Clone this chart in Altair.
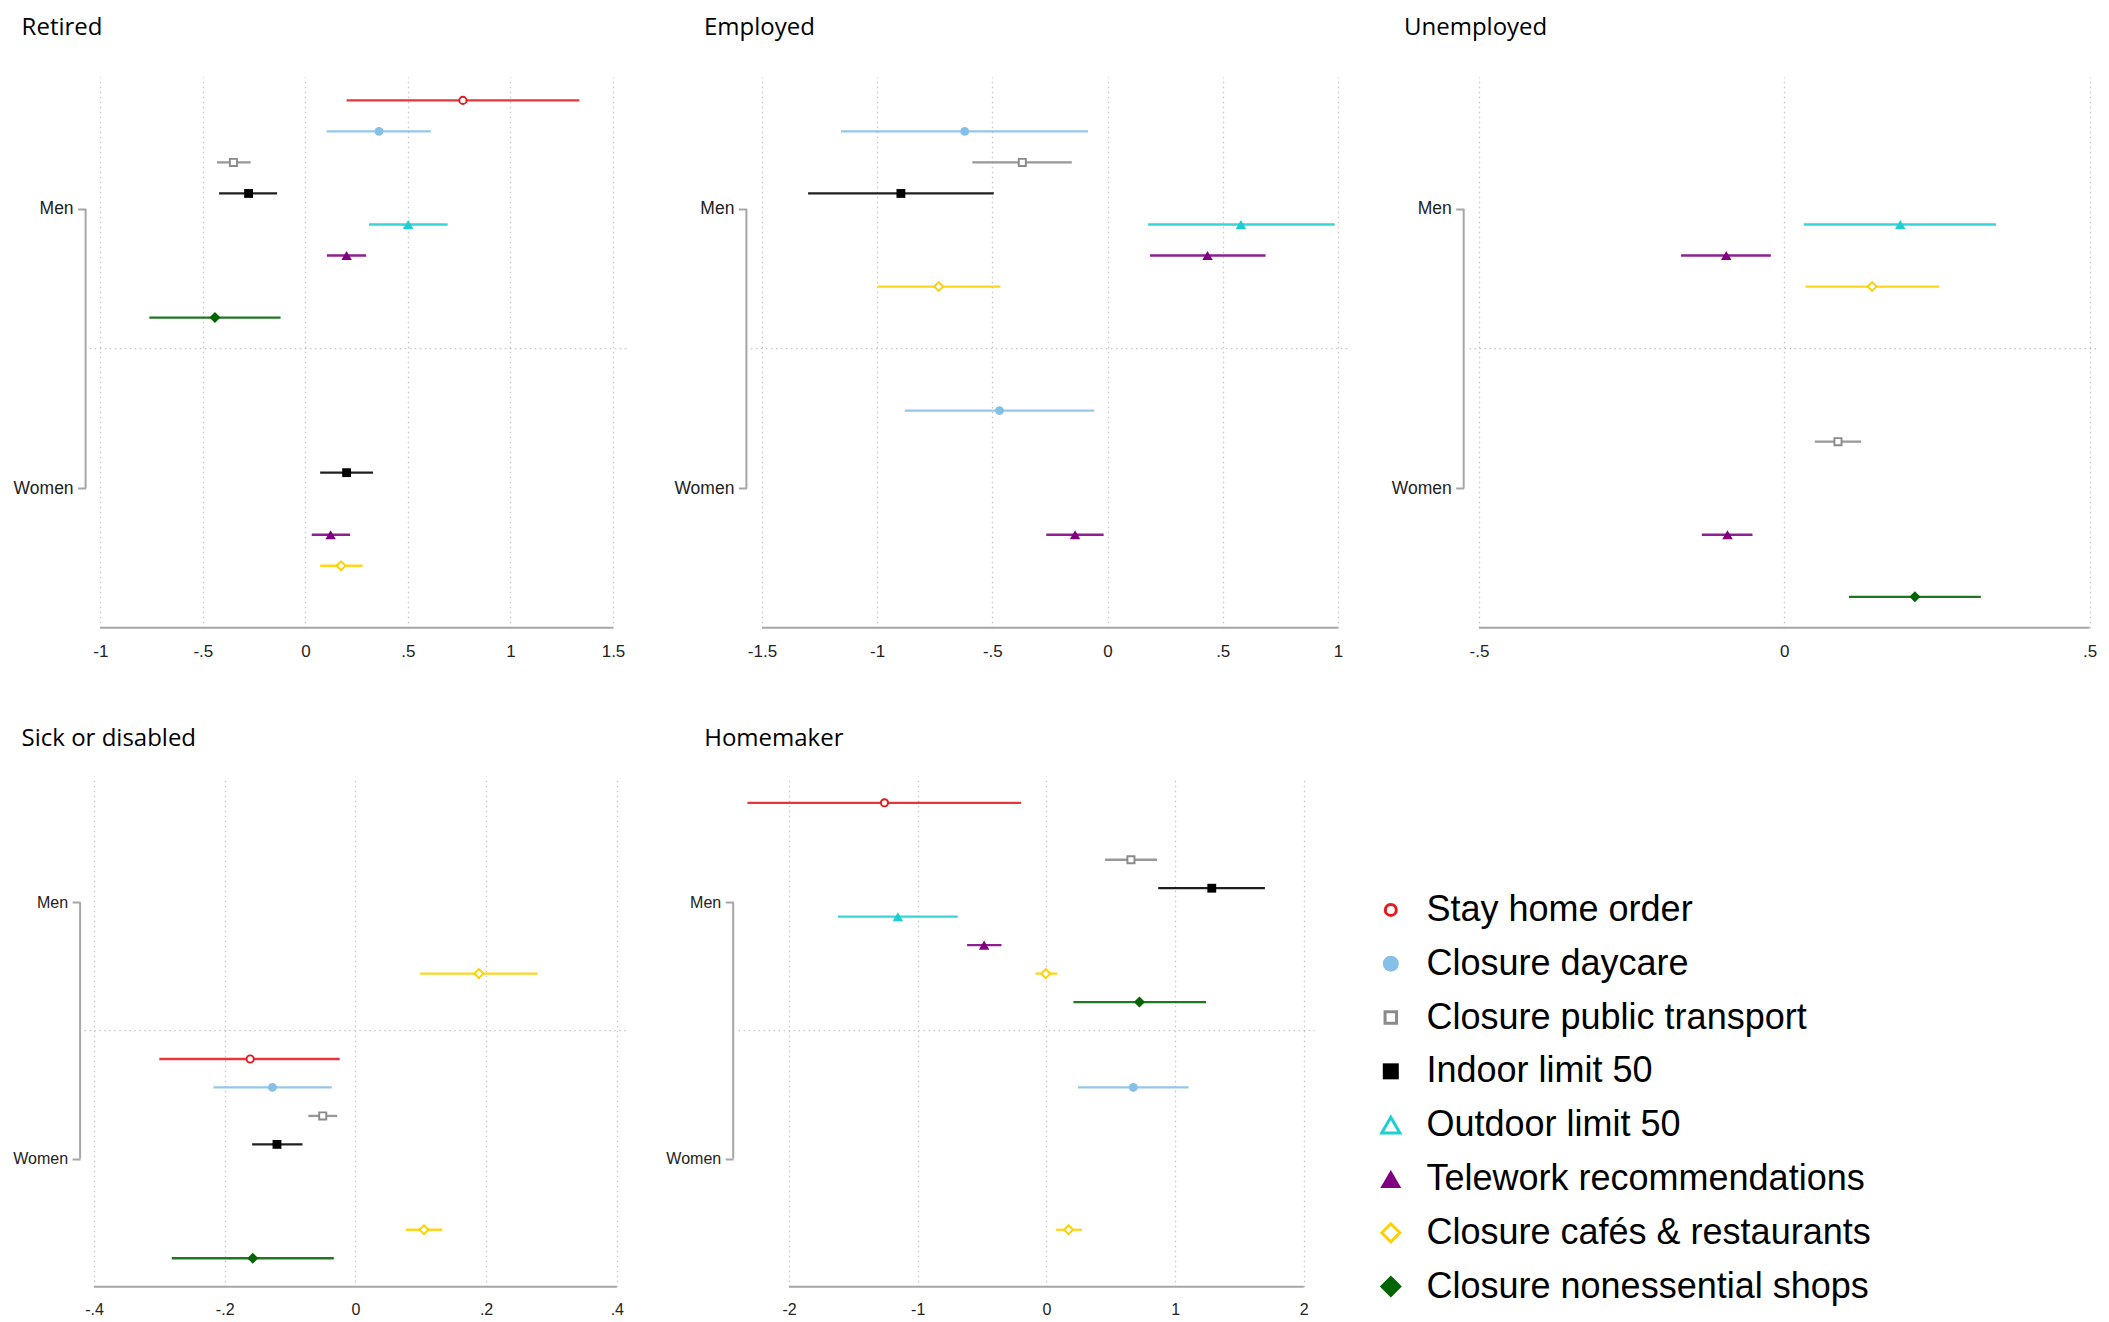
import altair as alt
import pandas as pd

# ---------------- categories & styles ----------------
POLICIES = ["Stay home order", "Closure daycare", "Closure public transport", "Indoor limit 50",
            "Outdoor limit 50", "Telework recommendations", "Closure cafés & restaurants",
            "Closure nonessential shops"]
COLORS = ["#e41a1c", "#86bfe8", "#8a8a8a", "#000000", "#1ccfd2", "#800080", "#fdd000", "#006400"]
SHAPES = ["circle", "circle", "square", "square", "triangle-up", "triangle-up", "diamond", "diamond"]
HOLLOW_PLOT = [True, False, True, False, False, False, True, False]
HOLLOW_LEGEND = [True, False, True, False, True, False, True, False]
PLOT_SIZES = [52, 78, 50, 78, 110, 110, 80, 120]
LEGEND_SIZES = [121, 256, 132, 256, 330, 441, 324, 484]

# ---------------- data ----------------
RET_GROUP = ["Men"] * 7 + ["Women"] * 3
RET_POLICY = ["Stay home order", "Closure daycare", "Closure public transport", "Indoor limit 50",
              "Outdoor limit 50", "Telework recommendations", "Closure nonessential shops",
              "Indoor limit 50", "Telework recommendations", "Closure cafés & restaurants"]
RET_COEF = [0.768, 0.359, -0.351, -0.277, 0.501, 0.201, -0.441, 0.201, 0.123, 0.174]
RET_LO = [0.201, 0.103, -0.431, -0.421, 0.310, 0.105, -0.761, 0.072, 0.031, 0.072]
RET_HI = [1.336, 0.612, -0.267, -0.138, 0.694, 0.296, -0.121, 0.330, 0.218, 0.279]

EMP_GROUP = ["Men"] * 6 + ["Women"] * 2
EMP_POLICY = ["Closure daycare", "Closure public transport", "Indoor limit 50", "Outdoor limit 50",
              "Telework recommendations", "Closure cafés & restaurants",
              "Closure daycare", "Telework recommendations"]
EMP_COEF = [-0.620, -0.370, -0.897, 0.579, 0.434, -0.733, -0.469, -0.141]
EMP_LO = [-1.157, -0.587, -1.300, 0.176, 0.184, -0.998, -0.880, -0.266]
EMP_HI = [-0.085, -0.155, -0.494, 0.986, 0.686, -0.465, -0.058, -0.017]

UNE_GROUP = ["Men"] * 3 + ["Women"] * 3
UNE_POLICY = ["Outdoor limit 50", "Telework recommendations", "Closure cafés & restaurants",
              "Closure public transport", "Telework recommendations", "Closure nonessential shops"]
UNE_COEF = [0.190, -0.095, 0.144, 0.088, -0.093, 0.214]
UNE_LO = [0.032, -0.169, 0.035, 0.050, -0.135, 0.106]
UNE_HI = [0.347, -0.022, 0.254, 0.126, -0.052, 0.322]

SIC_GROUP = ["Men"] + ["Women"] * 6
SIC_POLICY = ["Closure cafés & restaurants", "Stay home order", "Closure daycare",
              "Closure public transport", "Indoor limit 50", "Closure cafés & restaurants",
              "Closure nonessential shops"]
SIC_COEF = [0.189, -0.161, -0.127, -0.050, -0.120, 0.105, -0.157]
SIC_LO = [0.099, -0.300, -0.217, -0.072, -0.158, 0.077, -0.281]
SIC_HI = [0.279, -0.024, -0.036, -0.028, -0.081, 0.133, -0.033]

HOM_GROUP = ["Men"] * 7 + ["Women"] * 2
HOM_POLICY = ["Stay home order", "Closure public transport", "Indoor limit 50", "Outdoor limit 50",
              "Telework recommendations", "Closure cafés & restaurants", "Closure nonessential shops",
              "Closure daycare", "Closure cafés & restaurants"]
HOM_COEF = [-1.258, 0.657, 1.285, -1.154, -0.484, -0.005, 0.723, 0.675, 0.172]
HOM_LO = [-2.323, 0.456, 0.869, -1.619, -0.616, -0.085, 0.210, 0.245, 0.075]
HOM_HI = [-0.196, 0.859, 1.698, -0.689, -0.349, 0.082, 1.240, 1.105, 0.276]

RET_TICKS = [-1, -0.5, 0, 0.5, 1, 1.5]
RET_LABELS = ["-1", "-.5", "0", ".5", "1", "1.5"]
EMP_TICKS = [-1.5, -1, -0.5, 0, 0.5, 1]
EMP_LABELS = ["-1.5", "-1", "-.5", "0", ".5", "1"]
UNE_TICKS = [-0.5, 0, 0.5]
UNE_LABELS = ["-.5", "0", ".5"]
SIC_TICKS = [-0.4, -0.2, 0, 0.2, 0.4]
SIC_LABELS = ["-.4", "-.2", "0", ".2", ".4"]
HOM_TICKS = [-2, -1, 0, 1, 2]
HOM_LABELS = ["-2", "-1", "0", "1", "2"]

GROUP_TICKS = [4.5, 13.5]

GRID_COLOR = "#c6c6c6"
AXIS_COLOR = "#a6a6a6"
LABEL_FONT = "Liberation Sans"
TITLE_FONT = "Open Sans"

cscale = alt.Scale(domain=POLICIES, range=COLORS)
shscale = alt.Scale(domain=POLICIES, range=SHAPES)


def panel(title, group, policy, coef, lo, hi, ticks, labels, cfg):
    idx = [POLICIES.index(p) + 1 + (9 if g == "Women" else 0) for p, g in zip(policy, group)]
    df = pd.DataFrame({"group": group, "policy": policy, "coef": coef, "lo": lo, "hi": hi, "idx": idx})
    df["size"] = [PLOT_SIZES[POLICIES.index(p)] for p in policy]
    hol = df[[HOLLOW_PLOT[POLICIES.index(p)] for p in policy]]
    fil = df[[not HOLLOW_PLOT[POLICIES.index(p)] for p in policy]]

    h = cfg["h"]
    xscale = alt.Scale(domain=[ticks[0], ticks[-1]], range=cfg["xrange"], nice=False, zero=False)
    yscale = alt.Scale(domain=[cfg["y0"], 18], range=[0, h], nice=False, zero=False)
    label_expr = " : ".join(f"datum.value == {t} ? '{l}'" for t, l in zip(ticks, labels)) + " : ''"
    xaxis = alt.Axis(values=ticks, labelExpr=label_expr, title=None, domain=False, ticks=False,
                     tickSize=0, grid=True, gridColor=GRID_COLOR, gridDash=[1.5, 3.5], gridWidth=1.3,
                     labelFont=LABEL_FONT, labelFontSize=cfg["tfs"], labelColor="#222222",
                     labelPadding=cfg["lpad"], labelFlush=False, labelOverlap=False)
    yaxis = alt.Axis(values=GROUP_TICKS, labelExpr="datum.value < 9 ? 'Men' : 'Women'", title=None,
                     domain=False, ticks=True, tickSize=8, tickColor=AXIS_COLOR, tickWidth=2,
                     offset=-cfg["bx"], labelPadding=4.5, labelFont=LABEL_FONT,
                     labelFontSize=cfg["yfs"], labelColor="#222222", grid=False)

    def X(f):
        return alt.X(f"{f}:Q", scale=xscale, axis=xaxis)

    def Y(f):
        return alt.Y(f"{f}:Q", scale=yscale, axis=yaxis)

    sep = alt.Chart(pd.DataFrame({"idx": [9]})).mark_rule(
        color=GRID_COLOR, strokeDash=[1.5, 3.5], strokeWidth=1.3
    ).encode(y=Y("idx"), x=alt.value(cfg["sep"][0]), x2=alt.value(cfg["sep"][1]))

    bracket = alt.Chart(pd.DataFrame({"idx": [GROUP_TICKS[0]], "idx2": [GROUP_TICKS[1]]})).mark_rule(
        color=AXIS_COLOR, strokeWidth=2
    ).encode(y=Y("idx"), y2="idx2:Q", x=alt.value(cfg["bx"]))

    axline = alt.Chart(pd.DataFrame({"lo": [ticks[0]], "hi": [ticks[-1]]})).mark_rule(
        color=AXIS_COLOR, strokeWidth=2
    ).encode(x=X("lo"), x2="hi:Q", y=alt.value(h))

    bars = alt.Chart(df).mark_rule(strokeWidth=2.3, opacity=0.88).encode(
        x=X("lo"), x2="hi:Q", y=Y("idx"),
        color=alt.Color("policy:N", scale=cscale, legend=None))

    pts_f = alt.Chart(fil).mark_point(filled=True, opacity=1, strokeWidth=0).encode(
        x=X("coef"), y=Y("idx"),
        color=alt.Color("policy:N", scale=cscale, legend=None),
        shape=alt.Shape("policy:N", scale=shscale, legend=None),
        size=alt.Size("size:Q", scale=None, legend=None))

    pts_h = alt.Chart(hol).mark_point(filled=True, fill="white", opacity=1, strokeWidth=1.9).encode(
        x=X("coef"), y=Y("idx"),
        stroke=alt.Stroke("policy:N", scale=cscale, legend=None),
        shape=alt.Shape("policy:N", scale=shscale, legend=None),
        size=alt.Size("size:Q", scale=None, legend=None))

    ttl = alt.Chart(pd.DataFrame({"t": [title]})).mark_text(
        align="left", baseline="alphabetic", font=TITLE_FONT, fontSize=24, color="black"
    ).encode(text="t:N", x=alt.value(cfg["title"][0]), y=alt.value(cfg["title"][1]))

    layers = [sep, bracket, axline, bars, pts_h, pts_f, ttl]
    for sx, sy1, sy2 in cfg["spacers"]:
        layers.append(alt.Chart(pd.DataFrame({"k": [0]})).mark_rule(color="white", strokeWidth=1).encode(
            x=alt.value(sx), y=alt.value(sy1), y2=alt.value(sy2)))

    return alt.layer(*layers).properties(width=cfg["w"], height=h)


TOP = dict(h=550.8, y0=0.246, tfs=17, yfs=17.5, lpad=16)
BOT = dict(h=509.7, y0=0.093, tfs=16, yfs=16, lpad=14.5)

p1 = panel("Retired", RET_GROUP, RET_POLICY, RET_COEF, RET_LO, RET_HI, RET_TICKS, RET_LABELS,
           dict(TOP, xrange=[6.3, 519.0], w=520, bx=-8.4, sep=[-4.2, 532.4], title=[-72.4, -41.9],
                spacers=[(-84.6, -67.9, 595.8)]))
p2 = panel("Employed", EMP_GROUP, EMP_POLICY, EMP_COEF, EMP_LO, EMP_HI, EMP_TICKS, EMP_LABELS,
           dict(TOP, xrange=[0, 575.9], w=576, bx=-15.6, sep=[-11.1, 587.1], title=[-58, -41.9],
                spacers=[(-133.5, 0, 10)]))
p3 = panel("Unemployed", UNE_GROUP, UNE_POLICY, UNE_COEF, UNE_LO, UNE_HI, UNE_TICKS, UNE_LABELS,
           dict(TOP, xrange=[0, 610.5], w=611, bx=-15.3, sep=[-9.5, 618], title=[-75, -41.9],
                spacers=[(-128.5, 0, 10)]))
p4 = panel("Sick or disabled", SIC_GROUP, SIC_POLICY, SIC_COEF, SIC_LO, SIC_HI, SIC_TICKS, SIC_LABELS,
           dict(BOT, xrange=[0, 522.8], w=523, bx=-13.9, sep=[-9.7, 534.6], title=[-72.4, -31],
                spacers=[(-80, -102, -92)]))
p5 = panel("Homemaker", HOM_GROUP, HOM_POLICY, HOM_COEF, HOM_LO, HOM_HI, HOM_TICKS, HOM_LABELS,
           dict(BOT, xrange=[0, 514.8], w=515, bx=-55.8, sep=[-50.4, 525.5], title=[-84.8, -31],
                spacers=[(-158.5, 0, 10)]))

# ---------------- legend ----------------
leg = pd.DataFrame({"policy": POLICIES, "order": list(range(len(POLICIES))), "size": LEGEND_SIZES,
                    "hollow": HOLLOW_LEGEND})
lys = alt.Scale(domain=[0, 7], range=[132.9, 509.6])
leg_h = alt.Chart(leg[leg["hollow"]]).mark_point(filled=True, fill="white", opacity=1, strokeWidth=3).encode(
    x=alt.value(74.8), y=alt.Y("order:Q", scale=lys, axis=None),
    stroke=alt.Stroke("policy:N", scale=cscale, legend=None),
    shape=alt.Shape("policy:N", scale=shscale, legend=None),
    size=alt.Size("size:Q", scale=None, legend=None))
leg_f = alt.Chart(leg[~leg["hollow"]]).mark_point(filled=True, opacity=1, strokeWidth=0).encode(
    x=alt.value(74.8), y=alt.Y("order:Q", scale=lys, axis=None),
    color=alt.Color("policy:N", scale=cscale, legend=None),
    shape=alt.Shape("policy:N", scale=shscale, legend=None),
    size=alt.Size("size:Q", scale=None, legend=None))
leg_t = alt.Chart(leg).mark_text(align="left", baseline="middle", font=LABEL_FONT, fontSize=36,
                                 color="black").encode(
    x=alt.value(110.5), y=alt.Y("order:Q", scale=lys, axis=None), text="policy:N")
legend = alt.layer(leg_h, leg_f, leg_t).properties(width=560, height=520)

row1 = alt.hconcat(p1, p2, p3, spacing=0)
row2 = alt.hconcat(p4, p5, legend, spacing=0)
chart = alt.vconcat(row1, row2, spacing=0).properties(padding=0, background="white").configure_view(
    stroke=None)

chart.save("out.html", embed_options={"renderer": "svg", "actions": False})
